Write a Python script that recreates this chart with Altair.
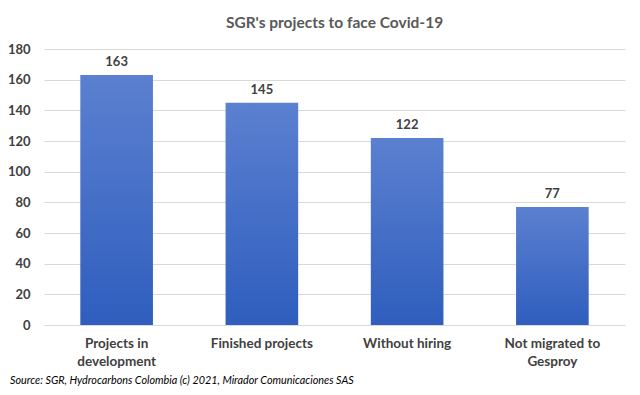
import altair as alt
import pandas as pd

categories = ["Projects in|development", "Finished projects", "Without hiring", "Not migrated to|Gesproy"]
values = [163, 145, 122, 77]
title_text = "SGR's projects to face Covid-19"
source_text = "Source: SGR, Hydrocarbons Colombia (c) 2021, Mirador Comunicaciones SAS"

df = pd.DataFrame({"cat": categories, "val": values})

W, H = 581, 276
FONT = "Lato"

grad = alt.Gradient(
    gradient="linear",
    stops=[alt.GradientStop(color="#5b80d0", offset=0),
           alt.GradientStop(color="#2f5ebe", offset=1)],
    x1=0, x2=0, y1=0, y2=1,
)

x = alt.X("cat:N", sort=categories, title=None,
          scale=alt.Scale(paddingInner=0.5, paddingOuter=0.25),
          axis=alt.Axis(labelAngle=0, labelExpr="split(datum.label, '|')",
                        domain=False, ticks=False, labelFont=FONT, labelFontSize=13.5,
                        labelFontWeight="bold", labelColor="#404040", labelPadding=11,
                        labelLineHeight=18))
y = alt.Y("val:Q", title=None,
          scale=alt.Scale(domain=[0, 180]),
          axis=alt.Axis(values=list(range(0, 181, 20)), domain=False, ticks=False,
                        gridColor="#d9d9d9", labelFont=FONT, labelFontSize=13,
                        labelFontWeight="bold", labelColor="#404040", labelPadding=14))

bars = alt.Chart(df).mark_bar(color=grad).encode(x=x, y=y)
labels = alt.Chart(df).mark_text(dy=-13, font=FONT, fontSize=13, fontWeight="bold",
                                 color="#404040").encode(x=x, y=y, text="val:Q")
source = alt.Chart(pd.DataFrame({"t": [source_text]})).mark_text(
    align="left", baseline="middle", font=FONT, fontSize=10.8, fontStyle="italic",
    color="#000000").encode(x=alt.value(-34), y=alt.value(H + 56), text="t:N")

chart = alt.layer(bars, labels, source).properties(
    width=W, height=H,
    title=alt.TitleParams(title_text, font=FONT, fontSize=15.5, fontWeight="bold",
                          color="#595959", anchor="middle", offset=12),
    autosize=alt.AutoSizeParams(type="none"),
    padding={"left": 36, "top": 41, "right": 7, "bottom": 62},
).configure_view(stroke=None)

chart.save("out.html", embed_options={"renderer": "svg", "actions": False})
